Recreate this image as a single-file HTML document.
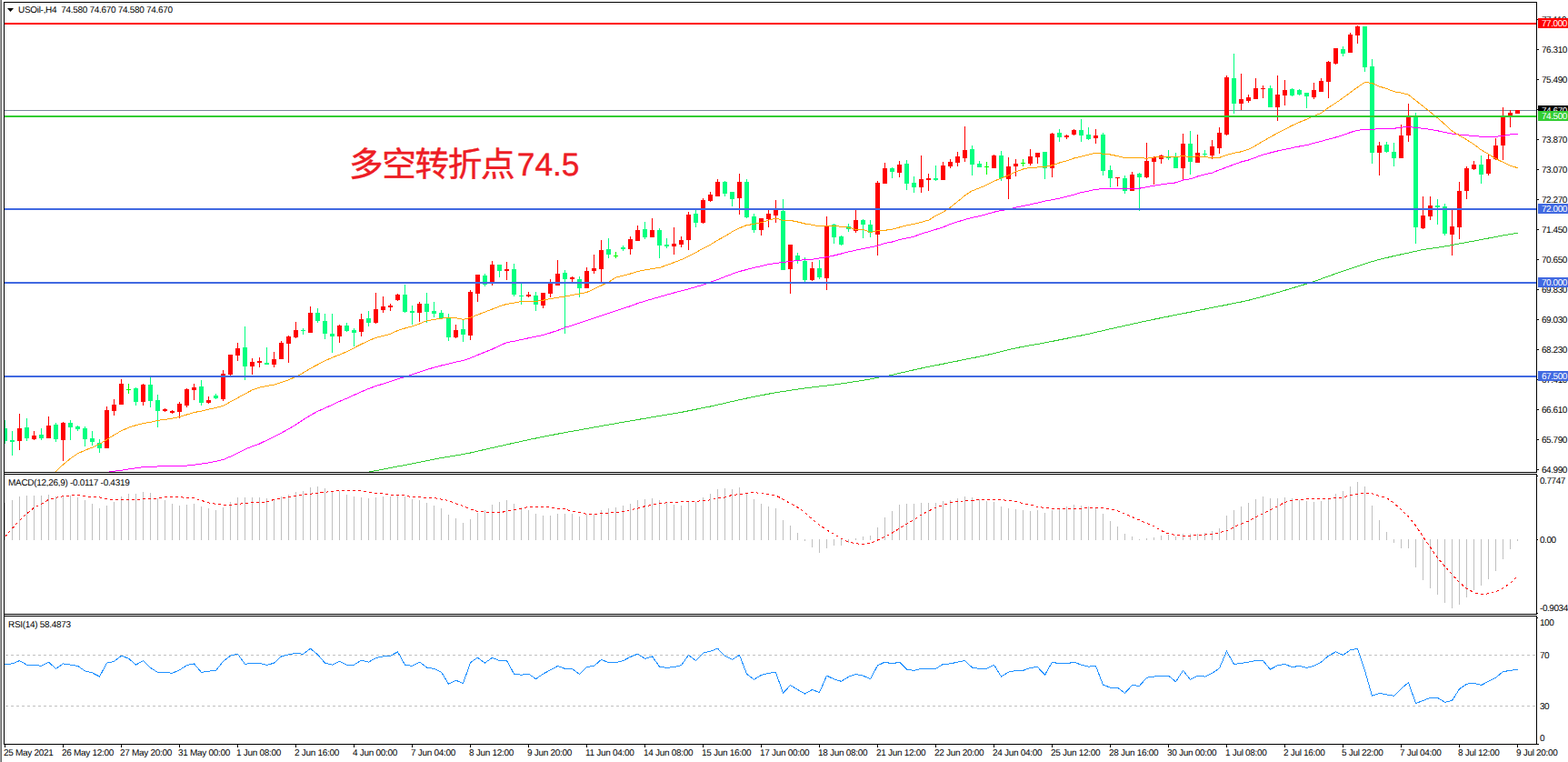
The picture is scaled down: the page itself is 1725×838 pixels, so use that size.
<!DOCTYPE html>
<html><head><meta charset="utf-8"><title>USOil H4</title>
<style>
html,body{margin:0;padding:0;background:#fff;}
body{width:1725px;height:838px;position:relative;overflow:hidden;font-family:"Liberation Sans",sans-serif;font-size:10px;color:#000;text-rendering:geometricPrecision;}
.a{position:absolute;}
.k{position:absolute;background:#000;}
svg{position:absolute;left:0;top:0;}
.tick{position:absolute;left:1691px;width:2px;height:1px;background:#000;}
.t1{width:1px;}
.pl{position:absolute;left:1696px;height:12px;line-height:12px;white-space:nowrap;letter-spacing:-0.45px;}
.vt{position:absolute;top:819px;width:1px;height:3px;background:#000;}
.tl{position:absolute;top:823px;height:12px;line-height:12px;white-space:nowrap;letter-spacing:-0.3px;}
.box{position:absolute;left:1692px;width:33px;height:11px;line-height:13px;overflow:hidden;color:#fff;white-space:nowrap;letter-spacing:-0.45px;text-indent:4px;}
.hl{position:absolute;left:5px;width:1685px;height:2px;}
</style></head><body>
<div class="a" style="left:0;top:0;width:1px;height:838px;background:#a0a0a0"></div><div class="a" style="left:1px;top:0;width:1px;height:838px;background:#696969"></div>
<!-- frames -->
<div class="k" style="left:4px;top:2px;width:1687px;height:1px"></div>
<div class="k" style="left:4px;top:2px;width:1px;height:817px"></div>
<div class="k" style="left:1690px;top:2px;width:1px;height:817px"></div>
<div class="k" style="left:4px;top:519px;width:1687px;height:1px"></div>
<div class="k" style="left:4px;top:521px;width:1687px;height:1px"></div>
<div class="k" style="left:4px;top:675px;width:1687px;height:1px"></div>
<div class="k" style="left:4px;top:677px;width:1687px;height:1px"></div>
<div class="k" style="left:4px;top:818px;width:1689px;height:1px"></div>
<div class="a" style="left:5px;top:520px;width:1720px;height:1px;background:#fff"></div>
<div class="a" style="left:5px;top:676px;width:1720px;height:1px;background:#fff"></div>
<!-- horizontal lines -->
<div class="hl" style="left:6px;width:1683px;top:720px;height:1px;background:repeating-linear-gradient(90deg,#c0c0c0 0 3px,transparent 3px 6px)"></div>
<div class="hl" style="left:6px;width:1683px;top:776px;height:1px;background:repeating-linear-gradient(90deg,#c0c0c0 0 3px,transparent 3px 6px)"></div>
<svg width="1725" height="838" viewBox="0 0 1725 838" shape-rendering="crispEdges">
<defs><clipPath id="cm"><rect x="5" y="3" width="1685" height="516"/></clipPath>
<clipPath id="c2"><rect x="5" y="522" width="1685" height="153"/></clipPath>
<clipPath id="c3"><rect x="5" y="678" width="1685" height="140"/></clipPath></defs>
<g clip-path="url(#cm)">
<rect x="5" y="121" width="1686" height="1" fill="#778899"/>
<rect x="5" y="462" width="1" height="26" fill="#00ff7f"/>
<rect x="3" y="471" width="5" height="14" fill="#00ff7f"/>
<rect x="13" y="474" width="1" height="27" fill="#00ff7f"/>
<rect x="11" y="484" width="5" height="2" fill="#00ff7f"/>
<rect x="21" y="455" width="1" height="40" fill="#ff0000"/>
<rect x="19" y="471" width="5" height="14" fill="#ff0000"/>
<rect x="29" y="460" width="1" height="25" fill="#00ff7f"/>
<rect x="27" y="470" width="5" height="12" fill="#00ff7f"/>
<rect x="37" y="474" width="1" height="10" fill="#ff0000"/>
<rect x="35" y="479" width="5" height="4" fill="#ff0000"/>
<rect x="45" y="471" width="1" height="13" fill="#00ff7f"/>
<rect x="43" y="478" width="5" height="4" fill="#00ff7f"/>
<rect x="53" y="458" width="1" height="24" fill="#ff0000"/>
<rect x="51" y="468" width="5" height="14" fill="#ff0000"/>
<rect x="61" y="465" width="1" height="21" fill="#00ff7f"/>
<rect x="59" y="467" width="5" height="16" fill="#00ff7f"/>
<rect x="69" y="464" width="1" height="43" fill="#ff0000"/>
<rect x="67" y="465" width="5" height="19" fill="#ff0000"/>
<rect x="77" y="462" width="1" height="22" fill="#00ff7f"/>
<rect x="75" y="465" width="5" height="5" fill="#00ff7f"/>
<rect x="85" y="468" width="1" height="6" fill="#00ff7f"/>
<rect x="83" y="469" width="5" height="3" fill="#00ff7f"/>
<rect x="93" y="469" width="1" height="22" fill="#00ff7f"/>
<rect x="91" y="471" width="5" height="12" fill="#00ff7f"/>
<rect x="101" y="474" width="1" height="16" fill="#00ff7f"/>
<rect x="99" y="482" width="5" height="4" fill="#00ff7f"/>
<rect x="109" y="483" width="1" height="15" fill="#00ff7f"/>
<rect x="107" y="487" width="5" height="6" fill="#00ff7f"/>
<rect x="117" y="447" width="1" height="46" fill="#ff0000"/>
<rect x="115" y="451" width="5" height="42" fill="#ff0000"/>
<rect x="125" y="439" width="1" height="18" fill="#ff0000"/>
<rect x="123" y="445" width="5" height="7" fill="#ff0000"/>
<rect x="133" y="417" width="1" height="28" fill="#ff0000"/>
<rect x="131" y="422" width="5" height="23" fill="#ff0000"/>
<rect x="141" y="422" width="1" height="11" fill="#00ff00"/>
<rect x="139" y="428" width="5" height="1" fill="#00ff00"/>
<rect x="149" y="426" width="1" height="20" fill="#00ff7f"/>
<rect x="147" y="427" width="5" height="15" fill="#00ff7f"/>
<rect x="157" y="422" width="1" height="24" fill="#ff0000"/>
<rect x="155" y="423" width="5" height="19" fill="#ff0000"/>
<rect x="165" y="414" width="1" height="34" fill="#00ff7f"/>
<rect x="163" y="423" width="5" height="18" fill="#00ff7f"/>
<rect x="173" y="434" width="1" height="36" fill="#00ff7f"/>
<rect x="171" y="440" width="5" height="12" fill="#00ff7f"/>
<rect x="181" y="449" width="1" height="4" fill="#ff0000"/>
<rect x="179" y="450" width="5" height="2" fill="#ff0000"/>
<rect x="189" y="451" width="1" height="4" fill="#ff0000"/>
<rect x="187" y="452" width="5" height="2" fill="#ff0000"/>
<rect x="197" y="442" width="1" height="18" fill="#ff0000"/>
<rect x="195" y="444" width="5" height="9" fill="#ff0000"/>
<rect x="205" y="427" width="1" height="21" fill="#ff0000"/>
<rect x="203" y="428" width="5" height="18" fill="#ff0000"/>
<rect x="213" y="422" width="1" height="18" fill="#ff0000"/>
<rect x="211" y="426" width="5" height="3" fill="#ff0000"/>
<rect x="221" y="418" width="1" height="28" fill="#00ff7f"/>
<rect x="219" y="425" width="5" height="18" fill="#00ff7f"/>
<rect x="229" y="436" width="1" height="8" fill="#ff0000"/>
<rect x="227" y="440" width="5" height="3" fill="#ff0000"/>
<rect x="237" y="433" width="1" height="6" fill="#00ff7f"/>
<rect x="235" y="435" width="5" height="3" fill="#00ff7f"/>
<rect x="245" y="407" width="1" height="34" fill="#ff0000"/>
<rect x="243" y="411" width="5" height="28" fill="#ff0000"/>
<rect x="253" y="390" width="1" height="23" fill="#ff0000"/>
<rect x="251" y="390" width="5" height="22" fill="#ff0000"/>
<rect x="261" y="377" width="1" height="20" fill="#ff0000"/>
<rect x="259" y="383" width="5" height="8" fill="#ff0000"/>
<rect x="269" y="359" width="1" height="59" fill="#00ff7f"/>
<rect x="267" y="382" width="5" height="21" fill="#00ff7f"/>
<rect x="277" y="394" width="1" height="18" fill="#ff0000"/>
<rect x="275" y="398" width="5" height="5" fill="#ff0000"/>
<rect x="285" y="393" width="1" height="11" fill="#ff0000"/>
<rect x="283" y="397" width="5" height="2" fill="#ff0000"/>
<rect x="293" y="382" width="1" height="19" fill="#00ff7f"/>
<rect x="291" y="399" width="5" height="2" fill="#00ff7f"/>
<rect x="301" y="387" width="1" height="17" fill="#ff0000"/>
<rect x="299" y="395" width="5" height="6" fill="#ff0000"/>
<rect x="309" y="375" width="1" height="20" fill="#ff0000"/>
<rect x="307" y="377" width="5" height="18" fill="#ff0000"/>
<rect x="317" y="369" width="1" height="30" fill="#ff0000"/>
<rect x="315" y="370" width="5" height="8" fill="#ff0000"/>
<rect x="325" y="354" width="1" height="18" fill="#ff0000"/>
<rect x="323" y="363" width="5" height="8" fill="#ff0000"/>
<rect x="333" y="361" width="1" height="7" fill="#00ff7f"/>
<rect x="331" y="363" width="5" height="1" fill="#00ff7f"/>
<rect x="341" y="337" width="1" height="29" fill="#ff0000"/>
<rect x="339" y="344" width="5" height="22" fill="#ff0000"/>
<rect x="349" y="339" width="1" height="16" fill="#00ff7f"/>
<rect x="347" y="344" width="5" height="9" fill="#00ff7f"/>
<rect x="357" y="345" width="1" height="28" fill="#00ff7f"/>
<rect x="355" y="353" width="5" height="14" fill="#00ff7f"/>
<rect x="365" y="345" width="1" height="43" fill="#00ff7f"/>
<rect x="363" y="367" width="5" height="3" fill="#00ff7f"/>
<rect x="373" y="357" width="1" height="20" fill="#ff0000"/>
<rect x="371" y="358" width="5" height="12" fill="#ff0000"/>
<rect x="381" y="355" width="1" height="10" fill="#00ff7f"/>
<rect x="379" y="358" width="5" height="6" fill="#00ff7f"/>
<rect x="389" y="361" width="1" height="20" fill="#00ff7f"/>
<rect x="387" y="363" width="5" height="3" fill="#00ff7f"/>
<rect x="397" y="345" width="1" height="25" fill="#ff0000"/>
<rect x="395" y="351" width="5" height="14" fill="#ff0000"/>
<rect x="405" y="342" width="1" height="17" fill="#00ff7f"/>
<rect x="403" y="350" width="5" height="5" fill="#00ff7f"/>
<rect x="413" y="322" width="1" height="34" fill="#ff0000"/>
<rect x="411" y="340" width="5" height="15" fill="#ff0000"/>
<rect x="421" y="326" width="1" height="18" fill="#ff0000"/>
<rect x="419" y="337" width="5" height="4" fill="#ff0000"/>
<rect x="429" y="334" width="1" height="8" fill="#ff0000"/>
<rect x="427" y="336" width="5" height="2" fill="#ff0000"/>
<rect x="437" y="323" width="1" height="8" fill="#ff0000"/>
<rect x="435" y="324" width="5" height="6" fill="#ff0000"/>
<rect x="445" y="313" width="1" height="31" fill="#00ff7f"/>
<rect x="443" y="324" width="5" height="19" fill="#00ff7f"/>
<rect x="453" y="336" width="1" height="21" fill="#00ff7f"/>
<rect x="451" y="342" width="5" height="2" fill="#00ff7f"/>
<rect x="461" y="332" width="1" height="22" fill="#ff0000"/>
<rect x="459" y="334" width="5" height="10" fill="#ff0000"/>
<rect x="469" y="322" width="1" height="33" fill="#00ff7f"/>
<rect x="467" y="334" width="5" height="9" fill="#00ff7f"/>
<rect x="477" y="332" width="1" height="17" fill="#00ff7f"/>
<rect x="475" y="342" width="5" height="3" fill="#00ff7f"/>
<rect x="485" y="341" width="1" height="9" fill="#00ff7f"/>
<rect x="483" y="344" width="5" height="6" fill="#00ff7f"/>
<rect x="493" y="345" width="1" height="30" fill="#00ff7f"/>
<rect x="491" y="349" width="5" height="22" fill="#00ff7f"/>
<rect x="501" y="357" width="1" height="15" fill="#ff0000"/>
<rect x="499" y="363" width="5" height="8" fill="#ff0000"/>
<rect x="509" y="352" width="1" height="24" fill="#00ff7f"/>
<rect x="507" y="362" width="5" height="6" fill="#00ff7f"/>
<rect x="517" y="319" width="1" height="55" fill="#ff0000"/>
<rect x="515" y="321" width="5" height="48" fill="#ff0000"/>
<rect x="525" y="302" width="1" height="30" fill="#ff0000"/>
<rect x="523" y="302" width="5" height="21" fill="#ff0000"/>
<rect x="533" y="301" width="1" height="14" fill="#00ff7f"/>
<rect x="531" y="303" width="5" height="10" fill="#00ff7f"/>
<rect x="541" y="287" width="1" height="27" fill="#ff0000"/>
<rect x="539" y="291" width="5" height="19" fill="#ff0000"/>
<rect x="549" y="291" width="1" height="14" fill="#00ff7f"/>
<rect x="547" y="291" width="5" height="7" fill="#00ff7f"/>
<rect x="557" y="288" width="1" height="20" fill="#ff0000"/>
<rect x="555" y="296" width="5" height="2" fill="#ff0000"/>
<rect x="565" y="290" width="1" height="36" fill="#00ff7f"/>
<rect x="563" y="296" width="5" height="28" fill="#00ff7f"/>
<rect x="573" y="312" width="1" height="23" fill="#00ff7f"/>
<rect x="571" y="325" width="5" height="1" fill="#00ff7f"/>
<rect x="581" y="321" width="1" height="6" fill="#ff0000"/>
<rect x="579" y="324" width="5" height="2" fill="#ff0000"/>
<rect x="589" y="321" width="1" height="21" fill="#00ff7f"/>
<rect x="587" y="325" width="5" height="10" fill="#00ff7f"/>
<rect x="597" y="322" width="1" height="17" fill="#ff0000"/>
<rect x="595" y="322" width="5" height="14" fill="#ff0000"/>
<rect x="605" y="307" width="1" height="20" fill="#ff0000"/>
<rect x="603" y="311" width="5" height="12" fill="#ff0000"/>
<rect x="613" y="286" width="1" height="28" fill="#ff0000"/>
<rect x="611" y="301" width="5" height="13" fill="#ff0000"/>
<rect x="621" y="297" width="1" height="70" fill="#00ff7f"/>
<rect x="619" y="300" width="5" height="7" fill="#00ff7f"/>
<rect x="629" y="304" width="1" height="6" fill="#ff0000"/>
<rect x="627" y="305" width="5" height="2" fill="#ff0000"/>
<rect x="637" y="304" width="1" height="23" fill="#00ff7f"/>
<rect x="635" y="307" width="5" height="10" fill="#00ff7f"/>
<rect x="645" y="294" width="1" height="23" fill="#ff0000"/>
<rect x="643" y="298" width="5" height="19" fill="#ff0000"/>
<rect x="653" y="280" width="1" height="21" fill="#ff0000"/>
<rect x="651" y="295" width="5" height="3" fill="#ff0000"/>
<rect x="661" y="264" width="1" height="46" fill="#ff0000"/>
<rect x="659" y="275" width="5" height="21" fill="#ff0000"/>
<rect x="669" y="262" width="1" height="22" fill="#00ff7f"/>
<rect x="667" y="274" width="5" height="6" fill="#00ff7f"/>
<rect x="677" y="277" width="1" height="7" fill="#00ff00"/>
<rect x="675" y="281" width="5" height="1" fill="#00ff00"/>
<rect x="685" y="270" width="1" height="6" fill="#00ff7f"/>
<rect x="683" y="272" width="5" height="2" fill="#00ff7f"/>
<rect x="693" y="260" width="1" height="20" fill="#ff0000"/>
<rect x="691" y="263" width="5" height="11" fill="#ff0000"/>
<rect x="701" y="248" width="1" height="17" fill="#ff0000"/>
<rect x="699" y="253" width="5" height="12" fill="#ff0000"/>
<rect x="709" y="244" width="1" height="19" fill="#00ff7f"/>
<rect x="707" y="252" width="5" height="9" fill="#00ff7f"/>
<rect x="717" y="240" width="1" height="21" fill="#ff0000"/>
<rect x="715" y="253" width="5" height="8" fill="#ff0000"/>
<rect x="725" y="251" width="1" height="33" fill="#00ff7f"/>
<rect x="723" y="253" width="5" height="17" fill="#00ff7f"/>
<rect x="733" y="262" width="1" height="11" fill="#00ff7f"/>
<rect x="731" y="269" width="5" height="2" fill="#00ff7f"/>
<rect x="741" y="250" width="1" height="30" fill="#ff0000"/>
<rect x="739" y="268" width="5" height="3" fill="#ff0000"/>
<rect x="749" y="260" width="1" height="12" fill="#ff0000"/>
<rect x="747" y="264" width="5" height="5" fill="#ff0000"/>
<rect x="757" y="233" width="1" height="42" fill="#ff0000"/>
<rect x="755" y="236" width="5" height="28" fill="#ff0000"/>
<rect x="765" y="231" width="1" height="19" fill="#00ff7f"/>
<rect x="763" y="235" width="5" height="10" fill="#00ff7f"/>
<rect x="773" y="218" width="1" height="28" fill="#ff0000"/>
<rect x="771" y="220" width="5" height="25" fill="#ff0000"/>
<rect x="781" y="211" width="1" height="11" fill="#ff0000"/>
<rect x="779" y="214" width="5" height="7" fill="#ff0000"/>
<rect x="789" y="197" width="1" height="19" fill="#ff0000"/>
<rect x="787" y="200" width="5" height="16" fill="#ff0000"/>
<rect x="797" y="199" width="1" height="17" fill="#00ff7f"/>
<rect x="795" y="200" width="5" height="13" fill="#00ff7f"/>
<rect x="805" y="211" width="1" height="16" fill="#00ff7f"/>
<rect x="803" y="211" width="5" height="8" fill="#00ff7f"/>
<rect x="813" y="191" width="1" height="45" fill="#ff0000"/>
<rect x="811" y="200" width="5" height="18" fill="#ff0000"/>
<rect x="821" y="197" width="1" height="43" fill="#00ff7f"/>
<rect x="819" y="200" width="5" height="39" fill="#00ff7f"/>
<rect x="829" y="235" width="1" height="21" fill="#00ff7f"/>
<rect x="827" y="238" width="5" height="15" fill="#00ff7f"/>
<rect x="837" y="240" width="1" height="19" fill="#ff0000"/>
<rect x="835" y="240" width="5" height="13" fill="#ff0000"/>
<rect x="845" y="231" width="1" height="19" fill="#ff0000"/>
<rect x="843" y="235" width="5" height="6" fill="#ff0000"/>
<rect x="853" y="220" width="1" height="25" fill="#ff0000"/>
<rect x="851" y="231" width="5" height="6" fill="#ff0000"/>
<rect x="861" y="219" width="1" height="78" fill="#00ff7f"/>
<rect x="859" y="232" width="5" height="65" fill="#00ff7f"/>
<rect x="869" y="269" width="1" height="54" fill="#ff0000"/>
<rect x="867" y="269" width="5" height="27" fill="#ff0000"/>
<rect x="877" y="278" width="1" height="12" fill="#00ff7f"/>
<rect x="875" y="281" width="5" height="6" fill="#00ff7f"/>
<rect x="885" y="283" width="1" height="27" fill="#00ff7f"/>
<rect x="883" y="287" width="5" height="21" fill="#00ff7f"/>
<rect x="893" y="288" width="1" height="21" fill="#ff0000"/>
<rect x="891" y="295" width="5" height="13" fill="#ff0000"/>
<rect x="901" y="286" width="1" height="21" fill="#00ff7f"/>
<rect x="899" y="295" width="5" height="10" fill="#00ff7f"/>
<rect x="909" y="238" width="1" height="81" fill="#ff0000"/>
<rect x="907" y="248" width="5" height="58" fill="#ff0000"/>
<rect x="917" y="246" width="1" height="22" fill="#00ff7f"/>
<rect x="915" y="247" width="5" height="14" fill="#00ff7f"/>
<rect x="925" y="259" width="1" height="11" fill="#00ff7f"/>
<rect x="923" y="260" width="5" height="9" fill="#00ff7f"/>
<rect x="933" y="246" width="1" height="9" fill="#00ff7f"/>
<rect x="931" y="249" width="5" height="3" fill="#00ff7f"/>
<rect x="941" y="231" width="1" height="25" fill="#ff0000"/>
<rect x="939" y="242" width="5" height="12" fill="#ff0000"/>
<rect x="949" y="241" width="1" height="21" fill="#00ff7f"/>
<rect x="947" y="242" width="5" height="5" fill="#00ff7f"/>
<rect x="957" y="242" width="1" height="19" fill="#00ff7f"/>
<rect x="955" y="247" width="5" height="9" fill="#00ff7f"/>
<rect x="965" y="199" width="1" height="82" fill="#ff0000"/>
<rect x="963" y="201" width="5" height="57" fill="#ff0000"/>
<rect x="973" y="179" width="1" height="23" fill="#ff0000"/>
<rect x="971" y="185" width="5" height="17" fill="#ff0000"/>
<rect x="981" y="184" width="1" height="12" fill="#00ff7f"/>
<rect x="979" y="185" width="5" height="4" fill="#00ff7f"/>
<rect x="989" y="177" width="1" height="18" fill="#ff0000"/>
<rect x="987" y="181" width="5" height="9" fill="#ff0000"/>
<rect x="997" y="176" width="1" height="33" fill="#00ff7f"/>
<rect x="995" y="180" width="5" height="22" fill="#00ff7f"/>
<rect x="1005" y="194" width="1" height="18" fill="#00ff7f"/>
<rect x="1003" y="201" width="5" height="5" fill="#00ff7f"/>
<rect x="1013" y="171" width="1" height="41" fill="#ff0000"/>
<rect x="1011" y="197" width="5" height="9" fill="#ff0000"/>
<rect x="1021" y="191" width="1" height="19" fill="#ff0000"/>
<rect x="1019" y="196" width="5" height="2" fill="#ff0000"/>
<rect x="1029" y="182" width="1" height="17" fill="#00ff7f"/>
<rect x="1027" y="196" width="5" height="2" fill="#00ff7f"/>
<rect x="1037" y="178" width="1" height="20" fill="#ff0000"/>
<rect x="1035" y="182" width="5" height="16" fill="#ff0000"/>
<rect x="1045" y="175" width="1" height="10" fill="#ff0000"/>
<rect x="1043" y="178" width="5" height="5" fill="#ff0000"/>
<rect x="1053" y="167" width="1" height="16" fill="#ff0000"/>
<rect x="1051" y="172" width="5" height="7" fill="#ff0000"/>
<rect x="1061" y="139" width="1" height="39" fill="#ff0000"/>
<rect x="1059" y="165" width="5" height="9" fill="#ff0000"/>
<rect x="1069" y="160" width="1" height="33" fill="#00ff7f"/>
<rect x="1067" y="164" width="5" height="17" fill="#00ff7f"/>
<rect x="1077" y="177" width="1" height="7" fill="#00ff7f"/>
<rect x="1075" y="180" width="5" height="4" fill="#00ff7f"/>
<rect x="1085" y="178" width="1" height="14" fill="#00ff00"/>
<rect x="1083" y="183" width="5" height="1" fill="#00ff00"/>
<rect x="1093" y="170" width="1" height="15" fill="#ff0000"/>
<rect x="1091" y="171" width="5" height="14" fill="#ff0000"/>
<rect x="1101" y="166" width="1" height="33" fill="#00ff7f"/>
<rect x="1099" y="171" width="5" height="25" fill="#00ff7f"/>
<rect x="1109" y="173" width="1" height="46" fill="#ff0000"/>
<rect x="1107" y="183" width="5" height="14" fill="#ff0000"/>
<rect x="1117" y="175" width="1" height="19" fill="#ff0000"/>
<rect x="1115" y="180" width="5" height="3" fill="#ff0000"/>
<rect x="1125" y="175" width="1" height="8" fill="#00ff00"/>
<rect x="1123" y="179" width="5" height="1" fill="#00ff00"/>
<rect x="1133" y="164" width="1" height="18" fill="#ff0000"/>
<rect x="1131" y="172" width="5" height="8" fill="#ff0000"/>
<rect x="1141" y="168" width="1" height="12" fill="#ff0000"/>
<rect x="1139" y="168" width="5" height="5" fill="#ff0000"/>
<rect x="1149" y="167" width="1" height="30" fill="#00ff7f"/>
<rect x="1147" y="167" width="5" height="18" fill="#00ff7f"/>
<rect x="1157" y="146" width="1" height="49" fill="#ff0000"/>
<rect x="1155" y="147" width="5" height="38" fill="#ff0000"/>
<rect x="1165" y="142" width="1" height="14" fill="#00ff7f"/>
<rect x="1163" y="146" width="5" height="5" fill="#00ff7f"/>
<rect x="1173" y="148" width="1" height="5" fill="#ff0000"/>
<rect x="1171" y="149" width="5" height="2" fill="#ff0000"/>
<rect x="1181" y="142" width="1" height="7" fill="#ff0000"/>
<rect x="1179" y="143" width="5" height="5" fill="#ff0000"/>
<rect x="1189" y="131" width="1" height="25" fill="#00ff7f"/>
<rect x="1187" y="143" width="5" height="6" fill="#00ff7f"/>
<rect x="1197" y="140" width="1" height="14" fill="#00ff7f"/>
<rect x="1195" y="148" width="5" height="5" fill="#00ff7f"/>
<rect x="1205" y="142" width="1" height="16" fill="#ff0000"/>
<rect x="1203" y="149" width="5" height="3" fill="#ff0000"/>
<rect x="1213" y="146" width="1" height="47" fill="#00ff7f"/>
<rect x="1211" y="148" width="5" height="40" fill="#00ff7f"/>
<rect x="1221" y="182" width="1" height="24" fill="#00ff7f"/>
<rect x="1219" y="187" width="5" height="9" fill="#00ff7f"/>
<rect x="1229" y="195" width="1" height="10" fill="#ff0000"/>
<rect x="1227" y="195" width="5" height="1" fill="#ff0000"/>
<rect x="1237" y="193" width="1" height="20" fill="#00ff7f"/>
<rect x="1235" y="196" width="5" height="14" fill="#00ff7f"/>
<rect x="1245" y="189" width="1" height="21" fill="#ff0000"/>
<rect x="1243" y="192" width="5" height="18" fill="#ff0000"/>
<rect x="1253" y="190" width="1" height="42" fill="#00ff7f"/>
<rect x="1251" y="191" width="5" height="4" fill="#00ff7f"/>
<rect x="1261" y="157" width="1" height="39" fill="#ff0000"/>
<rect x="1259" y="177" width="5" height="18" fill="#ff0000"/>
<rect x="1269" y="172" width="1" height="31" fill="#ff0000"/>
<rect x="1267" y="173" width="5" height="5" fill="#ff0000"/>
<rect x="1277" y="170" width="1" height="10" fill="#ff0000"/>
<rect x="1275" y="171" width="5" height="4" fill="#ff0000"/>
<rect x="1285" y="165" width="1" height="11" fill="#00ff7f"/>
<rect x="1283" y="172" width="5" height="2" fill="#00ff7f"/>
<rect x="1293" y="168" width="1" height="17" fill="#00ff7f"/>
<rect x="1291" y="172" width="5" height="13" fill="#00ff7f"/>
<rect x="1301" y="147" width="1" height="51" fill="#ff0000"/>
<rect x="1299" y="158" width="5" height="27" fill="#ff0000"/>
<rect x="1309" y="144" width="1" height="48" fill="#00ff7f"/>
<rect x="1307" y="158" width="5" height="20" fill="#00ff7f"/>
<rect x="1317" y="148" width="1" height="31" fill="#ff0000"/>
<rect x="1315" y="168" width="5" height="11" fill="#ff0000"/>
<rect x="1325" y="165" width="1" height="7" fill="#00ff7f"/>
<rect x="1323" y="169" width="5" height="1" fill="#00ff7f"/>
<rect x="1333" y="154" width="1" height="21" fill="#ff0000"/>
<rect x="1331" y="161" width="5" height="10" fill="#ff0000"/>
<rect x="1341" y="140" width="1" height="29" fill="#ff0000"/>
<rect x="1339" y="146" width="5" height="17" fill="#ff0000"/>
<rect x="1349" y="83" width="1" height="66" fill="#ff0000"/>
<rect x="1347" y="85" width="5" height="63" fill="#ff0000"/>
<rect x="1357" y="59" width="1" height="66" fill="#00ff7f"/>
<rect x="1355" y="86" width="5" height="28" fill="#00ff7f"/>
<rect x="1365" y="81" width="1" height="40" fill="#ff0000"/>
<rect x="1363" y="109" width="5" height="5" fill="#ff0000"/>
<rect x="1373" y="104" width="1" height="9" fill="#ff0000"/>
<rect x="1371" y="107" width="5" height="4" fill="#ff0000"/>
<rect x="1381" y="86" width="1" height="23" fill="#ff0000"/>
<rect x="1379" y="97" width="5" height="12" fill="#ff0000"/>
<rect x="1389" y="94" width="1" height="14" fill="#ff0000"/>
<rect x="1387" y="97" width="5" height="1" fill="#ff0000"/>
<rect x="1397" y="94" width="1" height="24" fill="#00ff7f"/>
<rect x="1395" y="97" width="5" height="21" fill="#00ff7f"/>
<rect x="1405" y="83" width="1" height="50" fill="#ff0000"/>
<rect x="1403" y="104" width="5" height="14" fill="#ff0000"/>
<rect x="1413" y="88" width="1" height="28" fill="#ff0000"/>
<rect x="1411" y="99" width="5" height="6" fill="#ff0000"/>
<rect x="1421" y="97" width="1" height="9" fill="#00ff7f"/>
<rect x="1419" y="98" width="5" height="7" fill="#00ff7f"/>
<rect x="1429" y="98" width="1" height="7" fill="#00ff7f"/>
<rect x="1427" y="99" width="5" height="5" fill="#00ff7f"/>
<rect x="1437" y="102" width="1" height="17" fill="#00ff7f"/>
<rect x="1435" y="102" width="5" height="4" fill="#00ff7f"/>
<rect x="1445" y="91" width="1" height="18" fill="#ff0000"/>
<rect x="1443" y="99" width="5" height="8" fill="#ff0000"/>
<rect x="1453" y="86" width="1" height="15" fill="#ff0000"/>
<rect x="1451" y="89" width="5" height="12" fill="#ff0000"/>
<rect x="1461" y="67" width="1" height="41" fill="#ff0000"/>
<rect x="1459" y="68" width="5" height="22" fill="#ff0000"/>
<rect x="1469" y="53" width="1" height="18" fill="#ff0000"/>
<rect x="1467" y="53" width="5" height="17" fill="#ff0000"/>
<rect x="1477" y="51" width="1" height="11" fill="#00ff7f"/>
<rect x="1475" y="54" width="5" height="5" fill="#00ff7f"/>
<rect x="1485" y="36" width="1" height="22" fill="#ff0000"/>
<rect x="1483" y="38" width="5" height="20" fill="#ff0000"/>
<rect x="1493" y="28" width="1" height="20" fill="#ff0000"/>
<rect x="1491" y="29" width="5" height="10" fill="#ff0000"/>
<rect x="1501" y="29" width="1" height="50" fill="#00ff7f"/>
<rect x="1499" y="29" width="5" height="45" fill="#00ff7f"/>
<rect x="1509" y="65" width="1" height="115" fill="#00ff7f"/>
<rect x="1507" y="73" width="5" height="95" fill="#00ff7f"/>
<rect x="1517" y="156" width="1" height="37" fill="#ff0000"/>
<rect x="1515" y="160" width="5" height="8" fill="#ff0000"/>
<rect x="1525" y="156" width="1" height="12" fill="#00ff7f"/>
<rect x="1523" y="159" width="5" height="8" fill="#00ff7f"/>
<rect x="1533" y="157" width="1" height="26" fill="#00ff7f"/>
<rect x="1531" y="167" width="5" height="7" fill="#00ff7f"/>
<rect x="1541" y="137" width="1" height="37" fill="#ff0000"/>
<rect x="1539" y="149" width="5" height="25" fill="#ff0000"/>
<rect x="1549" y="114" width="1" height="42" fill="#ff0000"/>
<rect x="1547" y="128" width="5" height="21" fill="#ff0000"/>
<rect x="1557" y="124" width="1" height="144" fill="#00ff7f"/>
<rect x="1555" y="128" width="5" height="122" fill="#00ff7f"/>
<rect x="1565" y="216" width="1" height="36" fill="#ff0000"/>
<rect x="1563" y="237" width="5" height="14" fill="#ff0000"/>
<rect x="1573" y="216" width="1" height="26" fill="#ff0000"/>
<rect x="1571" y="226" width="5" height="12" fill="#ff0000"/>
<rect x="1581" y="219" width="1" height="28" fill="#00ff7f"/>
<rect x="1579" y="226" width="5" height="2" fill="#00ff7f"/>
<rect x="1589" y="224" width="1" height="35" fill="#00ff7f"/>
<rect x="1587" y="227" width="5" height="30" fill="#00ff7f"/>
<rect x="1597" y="231" width="1" height="50" fill="#ff0000"/>
<rect x="1595" y="249" width="5" height="9" fill="#ff0000"/>
<rect x="1605" y="200" width="1" height="63" fill="#ff0000"/>
<rect x="1603" y="210" width="5" height="40" fill="#ff0000"/>
<rect x="1613" y="183" width="1" height="36" fill="#ff0000"/>
<rect x="1611" y="185" width="5" height="25" fill="#ff0000"/>
<rect x="1621" y="177" width="1" height="10" fill="#ff0000"/>
<rect x="1619" y="181" width="5" height="5" fill="#ff0000"/>
<rect x="1629" y="171" width="1" height="31" fill="#00ff7f"/>
<rect x="1627" y="181" width="5" height="11" fill="#00ff7f"/>
<rect x="1637" y="169" width="1" height="24" fill="#ff0000"/>
<rect x="1635" y="175" width="5" height="16" fill="#ff0000"/>
<rect x="1645" y="152" width="1" height="24" fill="#ff0000"/>
<rect x="1643" y="160" width="5" height="15" fill="#ff0000"/>
<rect x="1653" y="118" width="1" height="58" fill="#ff0000"/>
<rect x="1651" y="128" width="5" height="32" fill="#ff0000"/>
<rect x="1661" y="121" width="1" height="19" fill="#ff0000"/>
<rect x="1659" y="124" width="5" height="3" fill="#ff0000"/>
<rect x="1669" y="121" width="1" height="4" fill="#ff0000"/>
<rect x="1667" y="121" width="5" height="4" fill="#ff0000"/>
<polyline points="380.0,523.9 381.5,523.6 389.5,522.1 397.5,520.6 405.5,519.1 413.5,517.6 421.5,516.1 429.5,514.5 437.5,513.0 445.5,511.5 453.5,509.9 461.5,508.3 469.5,506.7 477.5,505.1 485.5,503.6 493.5,502.3 501.5,500.9 509.5,499.5 517.5,498.0 525.5,496.2 533.5,494.3 541.5,492.5 549.5,490.7 557.5,488.9 565.5,487.1 573.5,485.4 581.5,483.6 589.5,482.0 597.5,480.4 605.5,478.8 613.5,477.2 621.5,475.7 629.5,474.3 637.5,472.9 645.5,471.4 653.5,470.0 661.5,468.5 669.5,467.1 677.5,465.7 685.5,464.2 693.5,462.9 701.5,461.5 709.5,460.2 717.5,458.8 725.5,457.4 733.5,456.1 741.5,454.7 749.5,453.4 757.5,451.8 765.5,450.2 773.5,448.6 781.5,447.0 789.5,445.2 797.5,443.4 805.5,441.5 813.5,439.7 821.5,438.0 829.5,436.4 837.5,434.8 845.5,433.2 853.5,431.7 861.5,430.5 869.5,429.3 877.5,428.1 885.5,426.9 893.5,426.0 901.5,425.0 909.5,424.1 917.5,423.1 925.5,422.0 933.5,420.8 941.5,419.5 949.5,418.3 957.5,417.0 965.5,415.3 973.5,414.0 981.5,412.3 989.5,410.4 997.5,408.6 1005.5,406.8 1013.5,405.0 1021.5,403.4 1029.5,401.8 1037.5,400.2 1045.5,398.6 1053.5,397.0 1061.5,395.4 1069.5,393.8 1077.5,392.2 1085.5,390.5 1093.5,388.6 1101.5,386.7 1109.5,384.7 1117.5,382.8 1125.5,381.2 1133.5,379.8 1141.5,378.4 1149.5,376.9 1157.5,375.4 1165.5,373.8 1173.5,372.2 1181.5,370.6 1189.5,369.0 1197.5,367.3 1205.5,365.4 1213.5,363.6 1221.5,361.7 1229.5,359.9 1237.5,358.2 1245.5,356.4 1253.5,354.6 1261.5,352.9 1269.5,351.2 1277.5,349.6 1285.5,348.0 1293.5,346.4 1301.5,344.8 1309.5,343.2 1317.5,341.6 1325.5,340.0 1333.5,338.4 1341.5,336.8 1349.5,335.2 1357.5,333.6 1365.5,332.0 1373.5,330.3 1381.5,328.1 1389.5,326.0 1397.5,323.8 1405.5,321.7 1413.5,319.3 1421.5,316.9 1429.5,314.5 1437.5,312.1 1445.5,309.6 1453.5,306.7 1461.5,303.8 1469.5,300.9 1477.5,298.1 1485.5,295.4 1493.5,292.9 1501.5,290.3 1509.5,287.6 1517.5,285.4 1525.5,283.5 1533.5,281.5 1541.5,279.8 1549.5,278.1 1557.5,276.3 1565.5,274.5 1573.5,273.4 1581.5,272.2 1589.5,270.9 1597.5,269.5 1605.5,268.0 1613.5,266.5 1621.5,265.1 1629.5,263.6 1637.5,262.0 1645.5,260.5 1653.5,259.0 1661.5,257.5 1669.5,256.4" fill="none" stroke="#32cd32" stroke-width="1"/>
<polyline points="105.6,521.0 109.5,520.4 117.5,519.3 125.5,518.2 133.5,517.2 141.5,516.0 149.5,514.7 157.5,513.6 165.5,513.3 173.5,513.0 181.5,512.7 189.5,512.4 197.5,512.3 205.5,512.1 213.5,511.2 221.5,510.1 229.5,508.9 237.5,507.4 245.5,505.5 253.5,502.1 261.5,498.1 269.5,494.2 277.5,490.9 285.5,488.0 293.5,484.1 301.5,480.1 309.5,476.1 317.5,471.8 325.5,467.0 333.5,461.7 341.5,456.7 349.5,452.3 357.5,448.8 365.5,445.2 373.5,441.4 381.5,438.1 389.5,434.5 397.5,430.8 405.5,427.5 413.5,424.5 421.5,422.1 429.5,419.5 437.5,416.9 445.5,414.4 453.5,411.9 461.5,409.2 469.5,406.5 477.5,404.1 485.5,402.0 493.5,400.1 501.5,398.2 509.5,396.4 517.5,393.8 525.5,390.4 533.5,387.2 541.5,384.0 549.5,380.2 557.5,376.7 565.5,375.3 573.5,373.5 581.5,371.8 589.5,370.1 597.5,368.5 605.5,366.0 613.5,363.4 621.5,360.3 629.5,357.8 637.5,355.2 645.5,352.6 653.5,349.9 661.5,347.2 669.5,344.4 677.5,341.7 685.5,339.2 693.5,336.7 701.5,333.6 709.5,331.1 717.5,328.8 725.5,326.5 733.5,324.2 741.5,322.0 749.5,319.9 757.5,317.8 765.5,315.5 773.5,313.2 781.5,310.2 789.5,307.6 797.5,304.3 805.5,301.3 813.5,298.5 821.5,296.5 829.5,294.3 837.5,292.7 845.5,290.7 853.5,289.4 861.5,288.5 869.5,287.4 877.5,286.4 885.5,285.7 893.5,285.2 901.5,283.9 909.5,282.7 917.5,281.0 925.5,279.0 933.5,276.9 941.5,275.2 949.5,273.5 957.5,271.9 965.5,270.2 973.5,267.4 981.5,266.0 989.5,263.5 997.5,261.9 1005.5,260.2 1013.5,257.1 1021.5,254.8 1029.5,252.3 1037.5,249.9 1045.5,246.4 1053.5,243.9 1061.5,241.5 1069.5,239.4 1077.5,237.7 1085.5,235.5 1093.5,233.2 1101.5,231.6 1109.5,230.2 1117.5,228.2 1125.5,226.4 1133.5,224.9 1141.5,223.1 1149.5,221.1 1157.5,219.7 1165.5,218.1 1173.5,216.1 1181.5,214.1 1189.5,211.6 1197.5,210.2 1205.5,208.2 1213.5,207.7 1221.5,207.5 1229.5,207.4 1237.5,207.2 1245.5,207.2 1253.5,207.2 1261.5,205.7 1269.5,204.3 1277.5,203.0 1285.5,201.8 1293.5,200.9 1301.5,198.0 1309.5,196.8 1317.5,194.0 1325.5,191.8 1333.5,190.1 1341.5,186.8 1349.5,183.9 1357.5,180.9 1365.5,178.0 1373.5,176.0 1381.5,173.1 1389.5,170.1 1397.5,168.0 1405.5,166.0 1413.5,164.3 1421.5,162.6 1429.5,161.0 1437.5,159.6 1445.5,157.4 1453.5,155.4 1461.5,153.1 1469.5,151.0 1477.5,148.6 1485.5,145.6 1493.5,143.3 1501.5,142.3 1509.5,142.4 1517.5,141.6 1525.5,141.5 1533.5,141.3 1541.5,140.1 1549.5,139.4 1557.5,140.4 1565.5,141.3 1573.5,142.4 1581.5,143.8 1589.5,145.5 1597.5,147.1 1605.5,148.1 1613.5,148.8 1621.5,149.5 1629.5,150.3 1637.5,150.3 1645.5,150.3 1653.5,149.4 1661.5,148.0 1669.5,147.2" fill="none" stroke="#ff00ff" stroke-width="1"/>
<polyline points="52.8,527.0 53.5,526.3 61.5,518.4 69.5,510.9 77.5,504.2 85.5,498.8 93.5,495.2 101.5,492.1 109.5,488.4 117.5,483.4 125.5,478.4 133.5,473.8 141.5,470.2 149.5,467.7 157.5,465.5 165.5,464.3 173.5,462.3 181.5,461.3 189.5,460.2 197.5,458.5 205.5,456.0 213.5,453.5 221.5,452.2 229.5,450.2 237.5,448.5 245.5,446.3 253.5,441.9 277.5,428.9 285.5,426.1 293.5,424.4 301.5,423.2 309.5,420.5 317.5,417.7 325.5,414.3 333.5,410.1 341.5,405.1 349.5,401.0 357.5,396.8 365.5,393.2 373.5,390.1 381.5,386.8 389.5,382.6 397.5,378.5 405.5,374.8 413.5,371.3 421.5,369.3 429.5,367.3 437.5,363.5 445.5,361.0 453.5,358.8 461.5,356.0 469.5,352.7 477.5,351.5 485.5,350.1 493.5,349.6 501.5,349.6 509.5,351.3 517.5,349.3 549.5,336.9 557.5,334.4 565.5,333.1 573.5,331.6 581.5,331.5 589.5,331.4 597.5,330.2 605.5,328.6 613.5,327.3 621.5,326.1 629.5,324.4 637.5,323.2 645.5,321.5 653.5,317.7 661.5,314.0 669.5,310.2 677.5,305.2 685.5,303.1 693.5,301.0 701.5,298.6 709.5,296.9 717.5,295.6 725.5,294.4 733.5,291.6 741.5,288.6 749.5,285.6 757.5,281.9 765.5,277.7 773.5,273.2 781.5,269.2 789.5,264.1 797.5,259.9 805.5,254.9 813.5,250.8 821.5,247.6 829.5,246.4 837.5,244.7 845.5,242.2 853.5,240.2 861.5,242.3 869.5,242.4 877.5,244.0 885.5,246.0 893.5,247.2 901.5,249.0 909.5,248.5 917.5,248.2 925.5,249.3 933.5,250.2 941.5,252.3 949.5,252.4 957.5,255.5 965.5,253.7 973.5,253.3 981.5,252.1 989.5,250.0 997.5,247.9 1005.5,246.4 1013.5,244.3 1021.5,242.2 1029.5,237.2 1037.5,233.3 1045.5,228.0 1053.5,221.7 1061.5,215.0 1069.5,209.8 1077.5,206.8 1085.5,203.4 1093.5,199.3 1101.5,195.9 1109.5,192.9 1117.5,188.8 1125.5,186.0 1133.5,184.3 1141.5,184.0 1149.5,183.5 1157.5,181.8 1165.5,179.0 1173.5,176.8 1181.5,174.0 1189.5,172.1 1197.5,170.1 1205.5,168.1 1213.5,169.3 1221.5,170.0 1229.5,171.6 1237.5,173.5 1245.5,173.5 1253.5,173.5 1261.5,174.3 1269.5,173.1 1277.5,172.3 1285.5,172.6 1293.5,172.6 1301.5,171.5 1309.5,172.6 1317.5,171.8 1325.5,172.7 1333.5,173.5 1341.5,173.4 1349.5,170.4 1357.5,168.4 1365.5,166.8 1373.5,164.2 1381.5,160.1 1389.5,155.3 1397.5,150.7 1405.5,146.3 1413.5,142.2 1421.5,138.0 1429.5,134.4 1437.5,131.2 1445.5,127.6 1453.5,124.3 1461.5,118.2 1469.5,113.3 1477.5,107.6 1485.5,101.8 1493.5,95.9 1501.5,90.5 1509.5,91.5 1517.5,95.2 1525.5,97.4 1533.5,100.7 1541.5,102.1 1549.5,104.2 1557.5,110.6 1565.5,116.7 1573.5,123.3 1581.5,129.8 1589.5,136.7 1597.5,144.1 1605.5,149.0 1613.5,153.6 1621.5,158.8 1629.5,164.9 1637.5,169.5 1645.5,174.5 1653.5,178.4 1661.5,182.2 1669.5,184.6" fill="none" stroke="#ffa500" stroke-width="1"/>
<rect x="5" y="25" width="1685" height="2" fill="#ff0000"/>
<rect x="5" y="127" width="1685" height="2" fill="#32cd32"/>
<rect x="5" y="229" width="1685" height="2" fill="#4169e1"/>
<rect x="5" y="310" width="1685" height="2" fill="#4169e1"/>
<rect x="5" y="413" width="1685" height="2" fill="#4169e1"/>
</g>
<g clip-path="url(#c2)">
<rect x="5" y="553" width="1" height="41" fill="#c0c0c0"/>
<rect x="13" y="550" width="1" height="44" fill="#c0c0c0"/>
<rect x="21" y="546" width="1" height="48" fill="#c0c0c0"/>
<rect x="29" y="545" width="1" height="49" fill="#c0c0c0"/>
<rect x="37" y="545" width="1" height="49" fill="#c0c0c0"/>
<rect x="45" y="545" width="1" height="49" fill="#c0c0c0"/>
<rect x="53" y="544" width="1" height="50" fill="#c0c0c0"/>
<rect x="61" y="546" width="1" height="48" fill="#c0c0c0"/>
<rect x="69" y="545" width="1" height="49" fill="#c0c0c0"/>
<rect x="77" y="545" width="1" height="49" fill="#c0c0c0"/>
<rect x="85" y="547" width="1" height="47" fill="#c0c0c0"/>
<rect x="93" y="550" width="1" height="44" fill="#c0c0c0"/>
<rect x="101" y="554" width="1" height="40" fill="#c0c0c0"/>
<rect x="109" y="559" width="1" height="35" fill="#c0c0c0"/>
<rect x="117" y="556" width="1" height="38" fill="#c0c0c0"/>
<rect x="125" y="552" width="1" height="42" fill="#c0c0c0"/>
<rect x="133" y="546" width="1" height="48" fill="#c0c0c0"/>
<rect x="141" y="543" width="1" height="51" fill="#c0c0c0"/>
<rect x="149" y="543" width="1" height="51" fill="#c0c0c0"/>
<rect x="157" y="541" width="1" height="53" fill="#c0c0c0"/>
<rect x="165" y="542" width="1" height="52" fill="#c0c0c0"/>
<rect x="173" y="548" width="1" height="46" fill="#c0c0c0"/>
<rect x="181" y="550" width="1" height="44" fill="#c0c0c0"/>
<rect x="189" y="554" width="1" height="40" fill="#c0c0c0"/>
<rect x="197" y="556" width="1" height="38" fill="#c0c0c0"/>
<rect x="205" y="555" width="1" height="39" fill="#c0c0c0"/>
<rect x="213" y="554" width="1" height="40" fill="#c0c0c0"/>
<rect x="221" y="557" width="1" height="37" fill="#c0c0c0"/>
<rect x="229" y="559" width="1" height="35" fill="#c0c0c0"/>
<rect x="237" y="561" width="1" height="33" fill="#c0c0c0"/>
<rect x="245" y="558" width="1" height="36" fill="#c0c0c0"/>
<rect x="253" y="552" width="1" height="42" fill="#c0c0c0"/>
<rect x="261" y="547" width="1" height="47" fill="#c0c0c0"/>
<rect x="269" y="547" width="1" height="47" fill="#c0c0c0"/>
<rect x="277" y="547" width="1" height="47" fill="#c0c0c0"/>
<rect x="285" y="547" width="1" height="47" fill="#c0c0c0"/>
<rect x="293" y="548" width="1" height="46" fill="#c0c0c0"/>
<rect x="301" y="549" width="1" height="45" fill="#c0c0c0"/>
<rect x="309" y="546" width="1" height="48" fill="#c0c0c0"/>
<rect x="317" y="544" width="1" height="50" fill="#c0c0c0"/>
<rect x="325" y="541" width="1" height="53" fill="#c0c0c0"/>
<rect x="333" y="540" width="1" height="54" fill="#c0c0c0"/>
<rect x="341" y="536" width="1" height="58" fill="#c0c0c0"/>
<rect x="349" y="535" width="1" height="59" fill="#c0c0c0"/>
<rect x="357" y="537" width="1" height="57" fill="#c0c0c0"/>
<rect x="365" y="540" width="1" height="54" fill="#c0c0c0"/>
<rect x="373" y="540" width="1" height="54" fill="#c0c0c0"/>
<rect x="381" y="544" width="1" height="50" fill="#c0c0c0"/>
<rect x="389" y="546" width="1" height="48" fill="#c0c0c0"/>
<rect x="397" y="547" width="1" height="47" fill="#c0c0c0"/>
<rect x="405" y="548" width="1" height="46" fill="#c0c0c0"/>
<rect x="413" y="547" width="1" height="47" fill="#c0c0c0"/>
<rect x="421" y="546" width="1" height="48" fill="#c0c0c0"/>
<rect x="429" y="546" width="1" height="48" fill="#c0c0c0"/>
<rect x="437" y="545" width="1" height="49" fill="#c0c0c0"/>
<rect x="445" y="546" width="1" height="48" fill="#c0c0c0"/>
<rect x="453" y="549" width="1" height="45" fill="#c0c0c0"/>
<rect x="461" y="550" width="1" height="44" fill="#c0c0c0"/>
<rect x="469" y="553" width="1" height="41" fill="#c0c0c0"/>
<rect x="477" y="556" width="1" height="38" fill="#c0c0c0"/>
<rect x="485" y="559" width="1" height="35" fill="#c0c0c0"/>
<rect x="493" y="566" width="1" height="28" fill="#c0c0c0"/>
<rect x="501" y="570" width="1" height="24" fill="#c0c0c0"/>
<rect x="509" y="575" width="1" height="19" fill="#c0c0c0"/>
<rect x="517" y="571" width="1" height="23" fill="#c0c0c0"/>
<rect x="525" y="564" width="1" height="30" fill="#c0c0c0"/>
<rect x="533" y="561" width="1" height="33" fill="#c0c0c0"/>
<rect x="541" y="555" width="1" height="39" fill="#c0c0c0"/>
<rect x="549" y="552" width="1" height="42" fill="#c0c0c0"/>
<rect x="557" y="550" width="1" height="44" fill="#c0c0c0"/>
<rect x="565" y="554" width="1" height="40" fill="#c0c0c0"/>
<rect x="573" y="558" width="1" height="36" fill="#c0c0c0"/>
<rect x="581" y="561" width="1" height="33" fill="#c0c0c0"/>
<rect x="589" y="565" width="1" height="29" fill="#c0c0c0"/>
<rect x="597" y="567" width="1" height="27" fill="#c0c0c0"/>
<rect x="605" y="567" width="1" height="27" fill="#c0c0c0"/>
<rect x="613" y="565" width="1" height="29" fill="#c0c0c0"/>
<rect x="621" y="565" width="1" height="29" fill="#c0c0c0"/>
<rect x="629" y="565" width="1" height="29" fill="#c0c0c0"/>
<rect x="637" y="568" width="1" height="26" fill="#c0c0c0"/>
<rect x="645" y="566" width="1" height="28" fill="#c0c0c0"/>
<rect x="653" y="566" width="1" height="28" fill="#c0c0c0"/>
<rect x="661" y="561" width="1" height="33" fill="#c0c0c0"/>
<rect x="669" y="559" width="1" height="35" fill="#c0c0c0"/>
<rect x="677" y="558" width="1" height="36" fill="#c0c0c0"/>
<rect x="685" y="556" width="1" height="38" fill="#c0c0c0"/>
<rect x="693" y="554" width="1" height="40" fill="#c0c0c0"/>
<rect x="701" y="550" width="1" height="44" fill="#c0c0c0"/>
<rect x="709" y="549" width="1" height="45" fill="#c0c0c0"/>
<rect x="717" y="548" width="1" height="46" fill="#c0c0c0"/>
<rect x="725" y="550" width="1" height="44" fill="#c0c0c0"/>
<rect x="733" y="553" width="1" height="41" fill="#c0c0c0"/>
<rect x="741" y="555" width="1" height="39" fill="#c0c0c0"/>
<rect x="749" y="556" width="1" height="38" fill="#c0c0c0"/>
<rect x="757" y="552" width="1" height="42" fill="#c0c0c0"/>
<rect x="765" y="552" width="1" height="42" fill="#c0c0c0"/>
<rect x="773" y="547" width="1" height="47" fill="#c0c0c0"/>
<rect x="781" y="543" width="1" height="51" fill="#c0c0c0"/>
<rect x="789" y="538" width="1" height="56" fill="#c0c0c0"/>
<rect x="797" y="537" width="1" height="57" fill="#c0c0c0"/>
<rect x="805" y="538" width="1" height="56" fill="#c0c0c0"/>
<rect x="813" y="536" width="1" height="58" fill="#c0c0c0"/>
<rect x="821" y="543" width="1" height="51" fill="#c0c0c0"/>
<rect x="829" y="549" width="1" height="45" fill="#c0c0c0"/>
<rect x="837" y="554" width="1" height="40" fill="#c0c0c0"/>
<rect x="845" y="557" width="1" height="37" fill="#c0c0c0"/>
<rect x="853" y="559" width="1" height="35" fill="#c0c0c0"/>
<rect x="861" y="572" width="1" height="22" fill="#c0c0c0"/>
<rect x="869" y="578" width="1" height="16" fill="#c0c0c0"/>
<rect x="877" y="586" width="1" height="8" fill="#c0c0c0"/>
<rect x="885" y="593" width="1" height="2" fill="#c0c0c0"/>
<rect x="893" y="593" width="1" height="9" fill="#c0c0c0"/>
<rect x="901" y="593" width="1" height="15" fill="#c0c0c0"/>
<rect x="909" y="593" width="1" height="10" fill="#c0c0c0"/>
<rect x="917" y="593" width="1" height="7" fill="#c0c0c0"/>
<rect x="925" y="593" width="1" height="7" fill="#c0c0c0"/>
<rect x="933" y="593" width="1" height="4" fill="#c0c0c0"/>
<rect x="941" y="592" width="1" height="2" fill="#c0c0c0"/>
<rect x="949" y="590" width="1" height="4" fill="#c0c0c0"/>
<rect x="957" y="589" width="1" height="5" fill="#c0c0c0"/>
<rect x="965" y="580" width="1" height="14" fill="#c0c0c0"/>
<rect x="973" y="569" width="1" height="25" fill="#c0c0c0"/>
<rect x="981" y="562" width="1" height="32" fill="#c0c0c0"/>
<rect x="989" y="555" width="1" height="39" fill="#c0c0c0"/>
<rect x="997" y="554" width="1" height="40" fill="#c0c0c0"/>
<rect x="1005" y="554" width="1" height="40" fill="#c0c0c0"/>
<rect x="1013" y="553" width="1" height="41" fill="#c0c0c0"/>
<rect x="1021" y="553" width="1" height="41" fill="#c0c0c0"/>
<rect x="1029" y="553" width="1" height="41" fill="#c0c0c0"/>
<rect x="1037" y="551" width="1" height="43" fill="#c0c0c0"/>
<rect x="1045" y="550" width="1" height="44" fill="#c0c0c0"/>
<rect x="1053" y="548" width="1" height="46" fill="#c0c0c0"/>
<rect x="1061" y="546" width="1" height="48" fill="#c0c0c0"/>
<rect x="1069" y="547" width="1" height="47" fill="#c0c0c0"/>
<rect x="1077" y="549" width="1" height="45" fill="#c0c0c0"/>
<rect x="1085" y="551" width="1" height="43" fill="#c0c0c0"/>
<rect x="1093" y="552" width="1" height="42" fill="#c0c0c0"/>
<rect x="1101" y="557" width="1" height="37" fill="#c0c0c0"/>
<rect x="1109" y="559" width="1" height="35" fill="#c0c0c0"/>
<rect x="1117" y="560" width="1" height="34" fill="#c0c0c0"/>
<rect x="1125" y="561" width="1" height="33" fill="#c0c0c0"/>
<rect x="1133" y="562" width="1" height="32" fill="#c0c0c0"/>
<rect x="1141" y="561" width="1" height="33" fill="#c0c0c0"/>
<rect x="1149" y="564" width="1" height="30" fill="#c0c0c0"/>
<rect x="1157" y="561" width="1" height="33" fill="#c0c0c0"/>
<rect x="1165" y="559" width="1" height="35" fill="#c0c0c0"/>
<rect x="1173" y="557" width="1" height="37" fill="#c0c0c0"/>
<rect x="1181" y="555" width="1" height="39" fill="#c0c0c0"/>
<rect x="1189" y="556" width="1" height="38" fill="#c0c0c0"/>
<rect x="1197" y="557" width="1" height="37" fill="#c0c0c0"/>
<rect x="1205" y="559" width="1" height="35" fill="#c0c0c0"/>
<rect x="1213" y="565" width="1" height="29" fill="#c0c0c0"/>
<rect x="1221" y="573" width="1" height="21" fill="#c0c0c0"/>
<rect x="1229" y="579" width="1" height="15" fill="#c0c0c0"/>
<rect x="1237" y="587" width="1" height="7" fill="#c0c0c0"/>
<rect x="1245" y="590" width="1" height="4" fill="#c0c0c0"/>
<rect x="1253" y="593" width="1" height="1" fill="#c0c0c0"/>
<rect x="1261" y="592" width="1" height="2" fill="#c0c0c0"/>
<rect x="1269" y="591" width="1" height="3" fill="#c0c0c0"/>
<rect x="1277" y="589" width="1" height="5" fill="#c0c0c0"/>
<rect x="1285" y="588" width="1" height="6" fill="#c0c0c0"/>
<rect x="1293" y="590" width="1" height="4" fill="#c0c0c0"/>
<rect x="1301" y="587" width="1" height="7" fill="#c0c0c0"/>
<rect x="1309" y="587" width="1" height="7" fill="#c0c0c0"/>
<rect x="1317" y="587" width="1" height="7" fill="#c0c0c0"/>
<rect x="1325" y="586" width="1" height="8" fill="#c0c0c0"/>
<rect x="1333" y="584" width="1" height="10" fill="#c0c0c0"/>
<rect x="1341" y="581" width="1" height="13" fill="#c0c0c0"/>
<rect x="1349" y="567" width="1" height="27" fill="#c0c0c0"/>
<rect x="1357" y="561" width="1" height="33" fill="#c0c0c0"/>
<rect x="1365" y="557" width="1" height="37" fill="#c0c0c0"/>
<rect x="1373" y="553" width="1" height="41" fill="#c0c0c0"/>
<rect x="1381" y="549" width="1" height="45" fill="#c0c0c0"/>
<rect x="1389" y="546" width="1" height="48" fill="#c0c0c0"/>
<rect x="1397" y="548" width="1" height="46" fill="#c0c0c0"/>
<rect x="1405" y="548" width="1" height="46" fill="#c0c0c0"/>
<rect x="1413" y="547" width="1" height="47" fill="#c0c0c0"/>
<rect x="1421" y="548" width="1" height="46" fill="#c0c0c0"/>
<rect x="1429" y="550" width="1" height="44" fill="#c0c0c0"/>
<rect x="1437" y="551" width="1" height="43" fill="#c0c0c0"/>
<rect x="1445" y="552" width="1" height="42" fill="#c0c0c0"/>
<rect x="1453" y="551" width="1" height="43" fill="#c0c0c0"/>
<rect x="1461" y="548" width="1" height="46" fill="#c0c0c0"/>
<rect x="1469" y="543" width="1" height="51" fill="#c0c0c0"/>
<rect x="1477" y="540" width="1" height="54" fill="#c0c0c0"/>
<rect x="1485" y="535" width="1" height="59" fill="#c0c0c0"/>
<rect x="1493" y="530" width="1" height="64" fill="#c0c0c0"/>
<rect x="1501" y="535" width="1" height="59" fill="#c0c0c0"/>
<rect x="1509" y="556" width="1" height="38" fill="#c0c0c0"/>
<rect x="1517" y="572" width="1" height="22" fill="#c0c0c0"/>
<rect x="1525" y="585" width="1" height="9" fill="#c0c0c0"/>
<rect x="1533" y="593" width="1" height="4" fill="#c0c0c0"/>
<rect x="1541" y="593" width="1" height="10" fill="#c0c0c0"/>
<rect x="1549" y="593" width="1" height="10" fill="#c0c0c0"/>
<rect x="1557" y="593" width="1" height="31" fill="#c0c0c0"/>
<rect x="1565" y="593" width="1" height="45" fill="#c0c0c0"/>
<rect x="1573" y="593" width="1" height="54" fill="#c0c0c0"/>
<rect x="1581" y="593" width="1" height="61" fill="#c0c0c0"/>
<rect x="1589" y="593" width="1" height="70" fill="#c0c0c0"/>
<rect x="1597" y="593" width="1" height="76" fill="#c0c0c0"/>
<rect x="1605" y="593" width="1" height="72" fill="#c0c0c0"/>
<rect x="1613" y="593" width="1" height="64" fill="#c0c0c0"/>
<rect x="1621" y="593" width="1" height="56" fill="#c0c0c0"/>
<rect x="1629" y="593" width="1" height="51" fill="#c0c0c0"/>
<rect x="1637" y="593" width="1" height="44" fill="#c0c0c0"/>
<rect x="1645" y="593" width="1" height="35" fill="#c0c0c0"/>
<rect x="1653" y="593" width="1" height="22" fill="#c0c0c0"/>
<rect x="1661" y="593" width="1" height="11" fill="#c0c0c0"/>
<rect x="1669" y="593" width="1" height="2" fill="#c0c0c0"/>
<polyline points="5.5,590.3 13.5,581.1 21.5,572.4 29.5,564.9 37.5,558.2 45.5,554.4 53.5,549.4 61.5,547.4 69.5,545.7 77.5,544.9 85.5,544.2 93.5,545.7 101.5,546.9 109.5,546.9 117.5,548.7 125.5,549.4 133.5,549.4 141.5,549.4 149.5,549.4 157.5,548.7 165.5,548.7 173.5,547.9 181.5,546.7 189.5,546.7 197.5,546.7 205.5,547.4 213.5,547.9 221.5,550.4 229.5,552.9 237.5,554.2 245.5,555.4 253.5,555.4 261.5,554.2 269.5,553.7 277.5,552.9 285.5,552.4 293.5,551.9 301.5,549.4 309.5,547.9 317.5,546.7 325.5,545.7 333.5,544.2 341.5,543.2 349.5,542.4 357.5,541.2 365.5,540.5 373.5,539.5 381.5,539.5 389.5,539.5 397.5,540.0 405.5,541.2 413.5,542.4 421.5,542.9 429.5,544.4 437.5,544.4 445.5,544.9 453.5,546.7 461.5,546.7 469.5,547.4 477.5,547.4 485.5,549.2 493.5,550.4 501.5,553.7 509.5,556.7 517.5,559.9 525.5,562.4 533.5,563.1 541.5,563.6 549.5,563.6 557.5,562.4 565.5,560.6 573.5,559.1 581.5,557.4 589.5,557.4 597.5,557.4 605.5,557.9 613.5,559.1 621.5,559.9 629.5,562.4 637.5,563.6 645.5,565.4 653.5,565.4 661.5,564.9 669.5,564.1 677.5,563.6 685.5,562.4 693.5,560.6 701.5,559.1 709.5,556.7 717.5,555.4 725.5,553.7 733.5,552.9 741.5,552.4 749.5,551.7 757.5,551.2 765.5,551.2 773.5,550.7 781.5,549.9 789.5,547.9 797.5,546.9 805.5,544.4 813.5,543.7 821.5,542.4 829.5,541.2 837.5,542.9 845.5,543.2 853.5,544.9 861.5,549.2 869.5,553.7 877.5,557.9 885.5,563.6 893.5,571.1 901.5,577.3 909.5,582.8 917.5,587.3 925.5,592.3 933.5,596.0 941.5,597.8 949.5,598.5 957.5,597.3 965.5,594.0 973.5,590.3 981.5,586.1 989.5,581.1 997.5,576.1 1005.5,571.6 1013.5,566.1 1021.5,561.9 1029.5,558.2 1037.5,555.4 1045.5,552.9 1053.5,551.7 1061.5,550.7 1069.5,550.4 1077.5,549.4 1085.5,549.4 1093.5,549.4 1101.5,549.4 1109.5,550.7 1117.5,551.2 1125.5,553.7 1133.5,554.9 1141.5,557.4 1149.5,558.6 1157.5,559.1 1165.5,559.1 1173.5,559.1 1181.5,559.1 1189.5,559.1 1197.5,558.2 1205.5,558.2 1213.5,558.2 1221.5,559.9 1229.5,561.9 1237.5,564.9 1245.5,568.6 1253.5,571.9 1261.5,575.6 1269.5,578.6 1277.5,583.6 1285.5,586.8 1293.5,588.6 1301.5,589.3 1309.5,589.3 1317.5,588.6 1325.5,588.1 1333.5,587.3 1341.5,585.6 1349.5,583.6 1357.5,579.8 1365.5,576.1 1373.5,573.1 1381.5,568.6 1389.5,564.9 1397.5,560.6 1405.5,556.9 1413.5,552.4 1421.5,550.2 1429.5,549.4 1437.5,548.7 1445.5,548.7 1453.5,548.7 1461.5,548.2 1469.5,547.7 1477.5,546.9 1485.5,544.9 1493.5,543.2 1501.5,542.4 1509.5,542.7 1517.5,545.7 1525.5,547.7 1533.5,553.2 1541.5,560.6 1549.5,568.1 1557.5,578.1 1565.5,590.5 1573.5,601.8 1581.5,613.5 1589.5,622.9 1597.5,631.7 1605.5,640.4 1613.5,647.4 1621.5,651.6 1629.5,653.4 1637.5,652.9 1645.5,650.9 1653.5,646.6 1661.5,641.6 1669.5,633.4" fill="none" stroke="#ff0000" stroke-width="1" stroke-dasharray="3,3"/>
</g>
<g clip-path="url(#c3)">
<polyline points="5.5,730.4 13.5,729.9 21.5,726.6 29.5,731.1 37.5,731.1 45.5,732.4 53.5,728.1 61.5,735.4 69.5,729.9 77.5,731.1 85.5,732.4 93.5,737.9 101.5,739.9 109.5,744.1 117.5,729.1 125.5,727.4 133.5,721.2 141.5,724.1 149.5,731.1 157.5,726.6 165.5,734.4 173.5,739.4 181.5,739.4 189.5,740.3 197.5,736.9 205.5,731.6 213.5,729.9 221.5,739.4 229.5,738.1 237.5,737.4 245.5,727.4 253.5,721.2 261.5,719.2 269.5,730.4 277.5,729.1 285.5,729.1 293.5,731.6 301.5,729.1 309.5,721.9 317.5,719.9 325.5,718.2 333.5,719.4 341.5,713.2 349.5,719.9 357.5,729.1 365.5,731.1 373.5,727.4 381.5,731.1 389.5,731.1 397.5,726.1 405.5,728.1 413.5,723.6 421.5,721.9 429.5,721.2 437.5,716.9 445.5,731.1 453.5,732.4 461.5,728.1 469.5,734.1 477.5,735.4 485.5,739.1 493.5,752.3 501.5,748.1 509.5,751.6 517.5,728.6 525.5,723.2 533.5,729.1 541.5,723.2 549.5,726.6 557.5,726.6 565.5,741.1 573.5,742.3 581.5,741.1 589.5,746.6 597.5,741.1 605.5,736.9 613.5,732.4 621.5,735.4 629.5,735.4 637.5,741.6 645.5,733.6 653.5,732.4 661.5,725.4 669.5,728.6 677.5,728.6 685.5,726.6 693.5,722.4 701.5,719.2 709.5,724.4 717.5,721.9 725.5,733.1 733.5,734.4 741.5,733.6 749.5,731.6 757.5,720.4 765.5,726.6 773.5,718.2 781.5,716.2 789.5,713.2 797.5,721.2 805.5,725.4 813.5,720.4 821.5,741.1 829.5,747.3 837.5,742.3 845.5,740.3 853.5,739.4 861.5,762.3 869.5,753.6 877.5,758.5 885.5,763.0 893.5,758.5 901.5,761.5 909.5,743.1 917.5,746.8 925.5,749.3 933.5,744.3 941.5,741.6 949.5,743.1 957.5,746.6 965.5,731.9 973.5,728.1 981.5,729.9 989.5,728.1 997.5,736.1 1005.5,737.4 1013.5,735.4 1021.5,735.4 1029.5,735.4 1037.5,730.4 1045.5,729.9 1053.5,728.1 1061.5,726.6 1069.5,734.1 1077.5,735.4 1085.5,735.4 1093.5,731.1 1101.5,744.1 1109.5,739.1 1117.5,737.4 1125.5,737.4 1133.5,734.4 1141.5,733.6 1149.5,742.3 1157.5,728.1 1165.5,729.9 1173.5,729.9 1181.5,728.1 1189.5,731.1 1197.5,733.1 1205.5,732.4 1213.5,753.1 1221.5,756.1 1229.5,756.1 1237.5,762.3 1245.5,753.6 1253.5,754.3 1261.5,745.3 1269.5,744.1 1277.5,743.1 1285.5,743.1 1293.5,749.8 1301.5,737.4 1309.5,747.3 1317.5,743.1 1325.5,744.1 1333.5,740.3 1341.5,734.9 1349.5,716.2 1357.5,730.4 1365.5,729.4 1373.5,728.1 1381.5,726.6 1389.5,726.6 1397.5,736.1 1405.5,731.9 1413.5,730.4 1421.5,733.6 1429.5,732.4 1437.5,734.4 1445.5,732.4 1453.5,728.1 1461.5,721.2 1469.5,716.9 1477.5,720.4 1485.5,714.9 1493.5,713.2 1501.5,737.4 1509.5,765.3 1517.5,762.3 1525.5,764.0 1533.5,765.3 1541.5,757.3 1549.5,750.6 1557.5,773.5 1565.5,770.5 1573.5,767.3 1581.5,767.3 1589.5,772.3 1597.5,770.3 1605.5,757.8 1613.5,752.3 1621.5,751.1 1629.5,753.6 1637.5,749.3 1645.5,745.3 1653.5,738.6 1661.5,737.4 1669.5,736.1" fill="none" stroke="#1e90ff" stroke-width="1"/>
</g>
<g shape-rendering="auto"><text x="383.95" y="193.6" font-family="&quot;Liberation Sans&quot;, &quot;Noto Sans CJK SC&quot;, sans-serif" font-size="37.6" fill="#ed1c24" stroke="#ed1c24" stroke-width="0.45" stroke-linejoin="round" letter-spacing="-1.3">多空转折点<tspan x="568.8" y="193.3" font-size="35.3" letter-spacing="0">74.5</tspan></text></g>
<path d="M8 9h7l-3.5 4z" fill="#000" shape-rendering="auto"/>
</svg>
<div class="a" style="left:20px;top:6px;height:12px;line-height:12px;white-space:nowrap;letter-spacing:-0.3px">USOil-,H4&nbsp; 74.580 74.670 74.580 74.670</div>
<div class="a" style="left:9px;top:526px;height:12px;line-height:12px;white-space:nowrap;letter-spacing:-0.3px">MACD(12,26,9) -0.0117 -0.4319</div>
<div class="a" style="left:9px;top:682px;height:12px;line-height:12px;white-space:nowrap;letter-spacing:-0.3px">RSI(14) 58.4873</div>
<div class="tick" style="top:21px"></div><div class="pl" style="top:17px">77.110</div>
<div class="tick" style="top:54px"></div><div class="pl" style="top:50px">76.310</div>
<div class="tick" style="top:87px"></div><div class="pl" style="top:83px">75.490</div>
<div class="tick" style="top:120px"></div><div class="pl" style="top:116px">74.670</div>
<div class="tick" style="top:153px"></div><div class="pl" style="top:149px">73.870</div>
<div class="tick" style="top:186px"></div><div class="pl" style="top:182px">73.070</div>
<div class="tick" style="top:219px"></div><div class="pl" style="top:215px">72.270</div>
<div class="tick" style="top:252px"></div><div class="pl" style="top:248px">71.450</div>
<div class="tick" style="top:285px"></div><div class="pl" style="top:281px">70.650</div>
<div class="tick" style="top:318px"></div><div class="pl" style="top:314px">69.830</div>
<div class="tick" style="top:351px"></div><div class="pl" style="top:347px">69.030</div>
<div class="tick" style="top:384px"></div><div class="pl" style="top:380px">68.230</div>
<div class="tick" style="top:417px"></div><div class="pl" style="top:413px">67.410</div>
<div class="tick" style="top:450px"></div><div class="pl" style="top:446px">66.610</div>
<div class="tick" style="top:483px"></div><div class="pl" style="top:479px">65.790</div>
<div class="tick" style="top:516px"></div><div class="pl" style="top:512px">64.990</div>
<div class="tick t1" style="top:523px"></div><div class="pl" style="top:524px;left:1694px">0.7747</div>
<div class="tick t1" style="top:593px"></div><div class="pl" style="top:589px;left:1694px">0.00</div>
<div class="tick t1" style="top:674px"></div><div class="pl" style="top:664px;left:1694px">-0.9034</div>
<div class="tick t1" style="top:679px"></div><div class="pl" style="top:680px;left:1694px">100</div>
<div class="pl" style="top:716px;left:1694px">70</div>
<div class="pl" style="top:772px;left:1694px">30</div>
<div class="pl" style="top:807px;left:1694px">0</div>
<div class="vt" style="left:5px"></div><div class="tl" style="left:4px">25 May 2021</div>
<div class="vt" style="left:69px"></div><div class="tl" style="left:68px">26 May 12:00</div>
<div class="vt" style="left:133px"></div><div class="tl" style="left:132px">27 May 20:00</div>
<div class="vt" style="left:197px"></div><div class="tl" style="left:196px">31 May 00:00</div>
<div class="vt" style="left:261px"></div><div class="tl" style="left:260px">1 Jun 08:00</div>
<div class="vt" style="left:325px"></div><div class="tl" style="left:324px">2 Jun 16:00</div>
<div class="vt" style="left:389px"></div><div class="tl" style="left:388px">4 Jun 00:00</div>
<div class="vt" style="left:453px"></div><div class="tl" style="left:452px">7 Jun 04:00</div>
<div class="vt" style="left:517px"></div><div class="tl" style="left:516px">8 Jun 12:00</div>
<div class="vt" style="left:581px"></div><div class="tl" style="left:580px">9 Jun 20:00</div>
<div class="vt" style="left:645px"></div><div class="tl" style="left:644px">11 Jun 04:00</div>
<div class="vt" style="left:709px"></div><div class="tl" style="left:708px">14 Jun 08:00</div>
<div class="vt" style="left:773px"></div><div class="tl" style="left:772px">15 Jun 16:00</div>
<div class="vt" style="left:837px"></div><div class="tl" style="left:836px">17 Jun 00:00</div>
<div class="vt" style="left:901px"></div><div class="tl" style="left:900px">18 Jun 08:00</div>
<div class="vt" style="left:965px"></div><div class="tl" style="left:964px">21 Jun 12:00</div>
<div class="vt" style="left:1029px"></div><div class="tl" style="left:1028px">22 Jun 20:00</div>
<div class="vt" style="left:1093px"></div><div class="tl" style="left:1092px">24 Jun 04:00</div>
<div class="vt" style="left:1157px"></div><div class="tl" style="left:1156px">25 Jun 12:00</div>
<div class="vt" style="left:1221px"></div><div class="tl" style="left:1220px">28 Jun 16:00</div>
<div class="vt" style="left:1285px"></div><div class="tl" style="left:1284px">30 Jun 00:00</div>
<div class="vt" style="left:1349px"></div><div class="tl" style="left:1348px">1 Jul 08:00</div>
<div class="vt" style="left:1413px"></div><div class="tl" style="left:1412px">2 Jul 16:00</div>
<div class="vt" style="left:1477px"></div><div class="tl" style="left:1476px">5 Jul 22:00</div>
<div class="vt" style="left:1541px"></div><div class="tl" style="left:1540px">7 Jul 04:00</div>
<div class="vt" style="left:1605px"></div><div class="tl" style="left:1604px">8 Jul 12:00</div>
<div class="vt" style="left:1669px"></div><div class="tl" style="left:1668px">9 Jul 20:00</div>
<div class="box" style="top:20px;background:#ff0000">77.000</div>
<div class="box" style="top:116px;background:#000">74.670</div>
<div class="box" style="top:122px;background:#32cd32">74.500</div>
<div class="box" style="top:224px;background:#4169e1">72.000</div>
<div class="box" style="top:305px;background:#4169e1">70.000</div>
<div class="box" style="top:408px;background:#4169e1">67.500</div>
</body></html>
